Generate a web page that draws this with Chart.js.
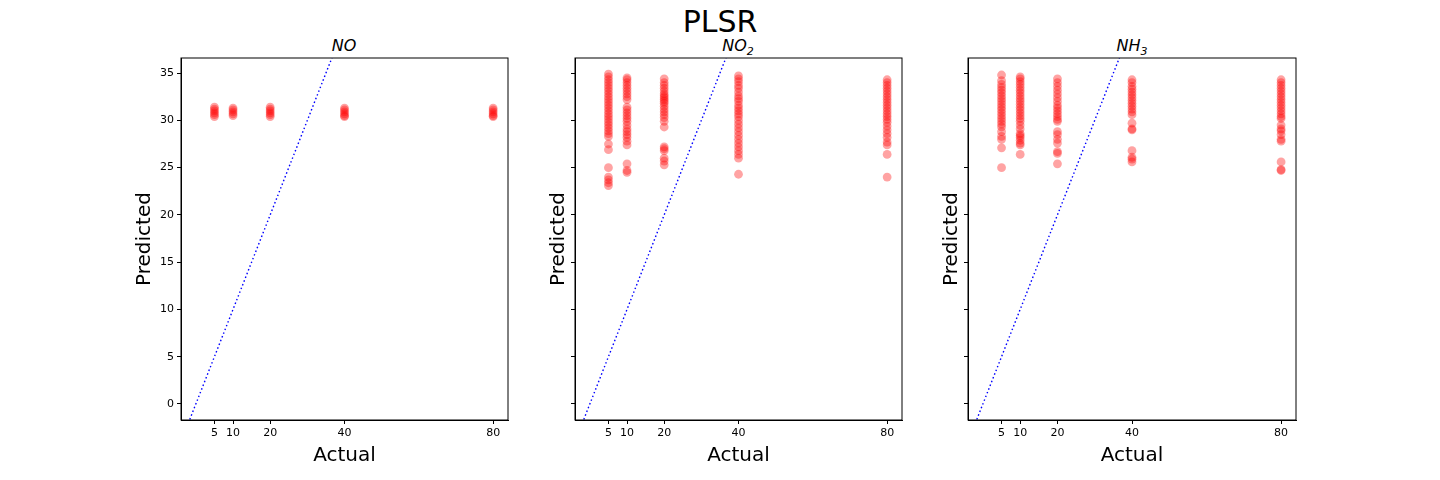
<!DOCTYPE html>
<html>
<head>
<meta charset="utf-8">
<script src="https://cdn.jsdelivr.net/npm/chart.js@4"></script>
<style>
  body { margin: 0; background: #fff; font-family: "DejaVu Sans", sans-serif; }
  #wrap { position: relative; width: 1440px; height: 480px; }
  .box { position: absolute; top: 0; height: 480px; }
  .ttl { position: absolute; top: 36px; font-size: 16px; font-style: italic; transform: translateX(-50%); }
  #main { position: absolute; top: 4px; left: 0; width: 1440px; text-align: center; font-size: 30px; }
</style>
</head>
<body>
<div id="wrap">
  <div id="main">PLSR</div>
  <div class="ttl" style="left:344px">NO</div>
  <div class="ttl" style="left:738px">NO<sub style="font-size:11px">2</sub></div>
  <div class="ttl" style="left:1132px">NH<sub style="font-size:11px">3</sub></div>
  <div class="box" style="left:133px;width:387px"><canvas id="c0"></canvas></div>
  <div class="box" style="left:547px;width:367px"><canvas id="c1"></canvas></div>
  <div class="box" style="left:940px;width:368px"><canvas id="c2"></canvas></div>
</div>
<script>
const concentrations = [5, 10, 20, 40, 80];
const xTicks = [5, 10, 20, 40, 80];
const yTicks = [0, 5, 10, 15, 20, 25, 30, 35];

// predicted values per actual concentration
const predNO = [
  [31.4, 31.2, 31.0, 30.8, 30.6, 30.4],
  [31.3, 31.1, 30.9, 30.7, 30.5],
  [31.4, 31.2, 31.0, 30.8, 30.6, 30.4],
  [31.3, 31.1, 30.9, 30.7, 30.5, 30.4],
  [31.3, 31.1, 30.9, 30.7, 30.5, 30.4]
];
const predNO2 = [
  [34.9,34.6,34.3,34.0,33.7,33.4,33.1,32.8,32.5,32.2,31.9,31.6,31.3,31.0,30.7,30.4,30.1,29.8,29.5,29.2,28.9,28.6,28.3,27.5,26.9,25.0,24.0,23.7,23.4,23.1],
  [34.5,34.3,34.0,33.7,33.4,33.1,32.8,32.5,32.2,31.4,31.1,30.8,30.5,30.2,29.9,29.5,29.1,28.8,28.5,28.2,27.8,27.4,25.4,24.7,24.5],
  [34.4,34.0,33.7,33.4,33.1,32.8,32.6,32.4,32.2,32.0,31.8,31.5,31.2,30.9,30.6,30.3,29.9,29.3,27.2,27.0,26.8,26.0,25.7,25.3],
  [34.7,34.4,34.1,33.7,33.4,33.0,32.6,32.3,32.0,31.6,31.3,31.0,30.7,30.4,30.0,29.6,29.2,28.8,28.4,28.0,27.6,27.2,26.8,26.4,26.0,24.3],
  [34.3,34.0,33.7,33.4,33.1,32.8,32.5,32.2,31.9,31.6,31.3,31.0,30.7,30.4,30.1,29.8,29.4,29.0,28.6,28.2,27.7,27.4,26.4,24.0]
];
const predNH3 = [
  [34.8,34.2,33.8,33.5,33.2,32.9,32.6,32.3,32.0,31.7,31.4,31.1,30.8,30.5,30.2,29.9,29.6,29.3,28.8,28.3,28.0,27.1,25.0],
  [34.6,34.4,34.1,33.8,33.5,33.2,32.9,32.6,32.3,32.0,31.7,31.4,31.1,30.8,30.5,30.2,29.9,29.5,29.1,28.6,28.4,28.2,27.9,27.6,27.4,26.4],
  [34.4,34.0,33.6,33.2,32.8,32.4,32.0,31.6,31.3,31.0,30.7,30.4,30.1,29.9,28.8,28.5,28.0,27.6,26.7,26.5,25.4],
  [34.3,34.0,33.6,33.3,33.0,32.7,32.4,32.1,31.8,31.5,31.2,30.9,30.6,29.7,29.1,29.0,26.8,26.1,25.9,25.6],
  [34.3,34.0,33.7,33.4,33.1,32.8,32.5,32.2,31.9,31.6,31.3,31.0,30.7,30.4,30.2,29.5,29.1,28.9,28.5,28.0,27.8,25.6,24.8,24.7]
];
const identityLine = [-4, 40];

const boxPlugin = {
  id: "box",
  afterDraw(chart) {
    const a = chart.chartArea, c = chart.ctx;
    c.save();
    c.strokeStyle = "#000";
    c.lineWidth = 1;
    c.strokeRect(a.left, a.top, a.right - a.left, a.bottom - a.top);
    c.restore();
  }
};

function makePanel(id, preds, showYLabels) {
  const pts = [];
  preds.forEach((vals, i) => vals.forEach(v => pts.push({ x: concentrations[i], y: v })));
  new Chart(document.getElementById(id), {
    type: "scatter",
    data: {
      datasets: [
        {
          data: pts,
          backgroundColor: "rgba(255,0,0,0.36)",
          borderWidth: 0,
          pointRadius: 4.4
        },
        {
          type: "line",
          data: identityLine.map(v => ({ x: v, y: v })),
          borderColor: "blue",
          borderWidth: 1.4,
          borderDash: [1.5, 2.5],
          pointRadius: 0,
          fill: false
        }
      ]
    },
    options: {
      responsive: true,
      maintainAspectRatio: false,
      animation: false,
      layout: { padding: { top: 58, right: 12, left: 0, bottom: 12 } },
      plugins: { legend: { display: false }, tooltip: { enabled: false } },
      scales: {
        x: {
          type: "linear", min: -4, max: 84,
          afterBuildTicks: ax => { ax.ticks = xTicks.map(v => ({ value: v })); },
          afterFit: ax => { ax.height = 48; },
          grid: { drawOnChartArea: false, tickLength: 4, color: "#000" },
          border: { color: "#000" },
          ticks: { color: "#000", font: { size: 11, family: "DejaVu Sans" }, maxRotation: 0 },
          title: { display: true, text: "Actual", color: "#000", font: { size: 20, family: "DejaVu Sans" }, padding: { top: 0, bottom: 0 } }
        },
        y: {
          type: "linear", min: -1.7, max: 36.6,
          afterBuildTicks: ax => { ax.ticks = yTicks.map(v => ({ value: v })); },
          afterFit: ax => { ax.width = showYLabels ? 48 : 28; },
          grid: { drawOnChartArea: false, tickLength: 4, color: "#000" },
          border: { color: "#000" },
          ticks: {
            color: "#000", font: { size: 11, family: "DejaVu Sans" },
            callback: v => showYLabels ? v : ""
          },
          title: { display: true, text: "Predicted", color: "#000", font: { size: 20, family: "DejaVu Sans" }, padding: 0 }
        }
      }
    },
    plugins: [boxPlugin]
  });
}

makePanel("c0", predNO, true);
makePanel("c1", predNO2, false);
makePanel("c2", predNH3, false);
</script>
</body>
</html>
